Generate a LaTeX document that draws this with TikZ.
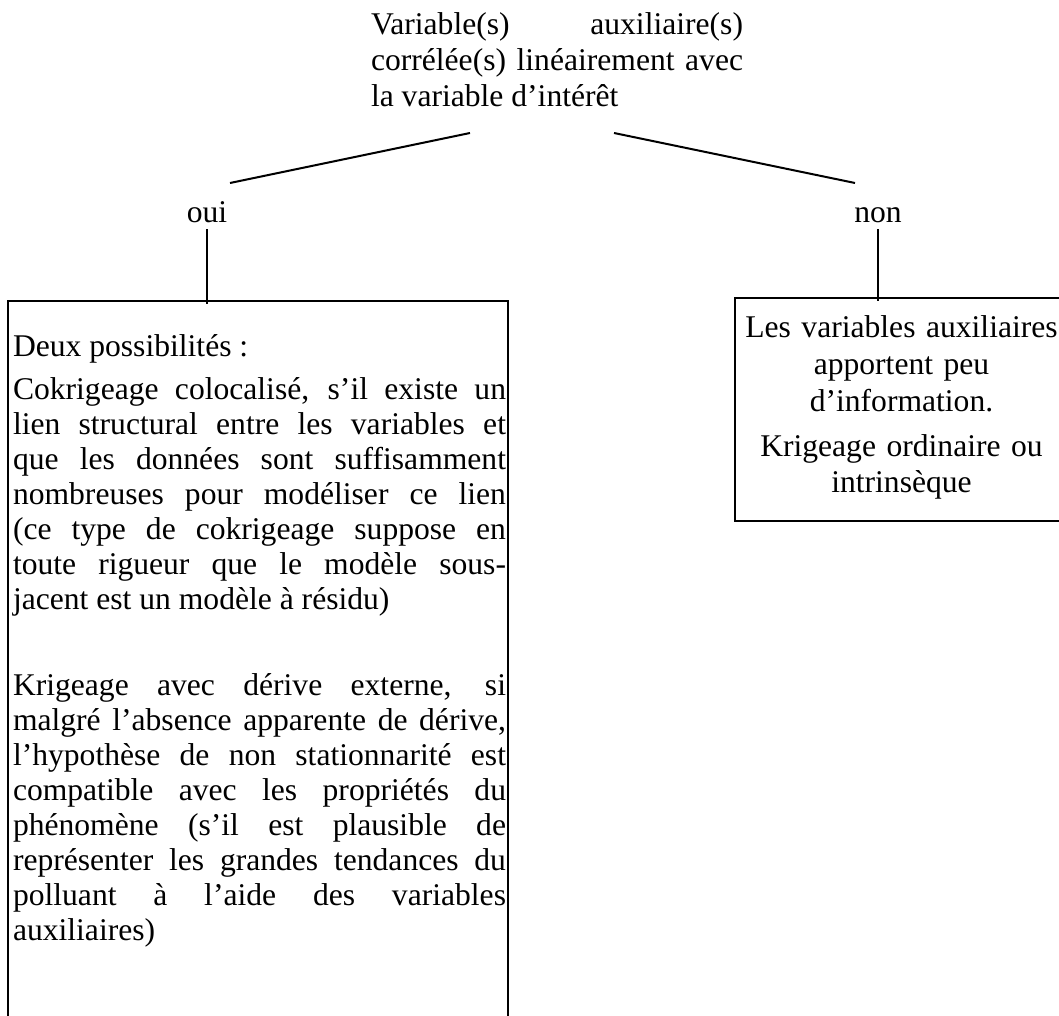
\documentclass[tikz,border=0pt]{standalone}
\usepackage{fontspec}
\setmainfont{Liberation Serif}
\begin{document}
\begin{tikzpicture}[x=0.5pt,y=-0.5pt,line width=1pt,
  txt/.style={inner sep=0pt,font=\fontsize{15.8pt}{18pt}\selectfont},
  boxst/.style={draw,inner sep=0pt,anchor=north west},
  conn/.style={draw,line width=1pt}]
\useasboundingbox (0,0) rectangle (1059,1016);
\clip (0,0) rectangle (1059,1016);

% question
\node[txt,text width=186pt,align=justify,anchor=base west] (q) at (370,35)
  {Variable(s) auxiliaire(s)\linebreak corrélée(s) linéairement avec\linebreak la variable d’intérêt};

% answers
\node[txt,anchor=base] (oui) at (207,222) {oui};
\node[txt,anchor=base] (non) at (878,222) {non};

% branch ends
\coordinate (qL) at (470,133);
\coordinate (qR) at (614,133);
\coordinate (oL) at (230,183);
\coordinate (nR) at (855,183);
\draw[conn] (qL) -- (oL);
\draw[conn] (qR) -- (nR);

% boxes
\node[boxst,minimum width=250pt,minimum height=370pt] (lbox) at (7,300) {};
\node[boxst,minimum width=167.5pt,minimum height=111.5pt] (rbox) at (734,297) {};

\draw[conn] ([yshift=-3pt]oui.south) -- ([yshift=-2pt]oui.south |- lbox.north);
\draw[conn] ([yshift=-3pt]non.south) -- ([yshift=-2pt]non.south |- rbox.north);

% left text
\node[txt,text width=246.5pt,align=justify,anchor=base west] (ltxt) at (12,356)
  {\fontsize{15.8pt}{17.5pt}\selectfont
   Deux possibilités :\par\vspace{4pt}
   Cokrigeage colocalisé, s’il existe un\linebreak
   lien structural entre les variables et\linebreak
   que les données sont suffisamment\linebreak
   nombreuses pour modéliser ce lien\linebreak
   (ce type de cokrigeage suppose en\linebreak
   toute rigueur que le modèle sous-\linebreak
   jacent est un modèle à résidu)\par
   \vspace{17.5pt}\vspace{8pt}
   Krigeage avec dérive externe, si\linebreak
   malgré l’absence apparente de dérive,\linebreak
   l’hypothèse de non stationnarité est\linebreak
   compatible avec les propriétés du\linebreak
   phénomène (s’il est plausible de\linebreak
   représenter les grandes tendances du\linebreak
   polluant à l’aide des variables\linebreak
   auxiliaires)\par};

% right text
\node[txt,text width=166pt,align=center,anchor=base] (rtxt) at (901.5,337)
  {\fontsize{15.8pt}{18.5pt}\selectfont
   Les variables auxiliaires\\ apportent peu\\ d’information.\\[4pt]
   Krigeage ordinaire ou\\ intrinsèque};
\end{tikzpicture}
\end{document}
